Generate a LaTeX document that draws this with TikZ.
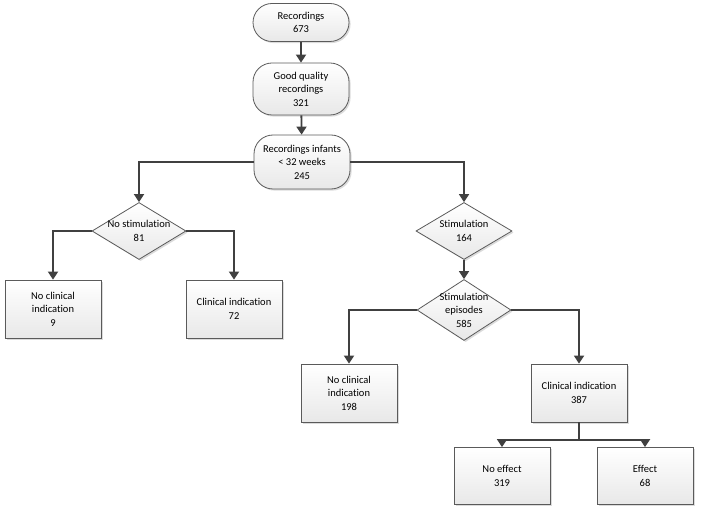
\documentclass[tikz,border=0pt]{standalone}
\usepackage{fontspec}
\setmainfont{Carlito}[Ligatures=NoCommon]
\usetikzlibrary{arrows.meta,shapes.geometric,shadows}
\definecolor{edgegray}{HTML}{5A5A5A}
\definecolor{arrowgray}{HTML}{404040}
\tikzset{
  base/.style={draw=edgegray, line width=0.8bp, top color=white, bottom color=black!9,
    drop shadow={shadow xshift=1.6bp, shadow yshift=-1.6bp, fill=black!28},
    font=\fontsize{10.5bp}{13.5bp}\selectfont, align=center, inner sep=0pt},
  roundbox/.style={base, rectangle, rounded corners=19bp, minimum width=96bp},
  squarebox/.style={base, rectangle, minimum width=96bp, minimum height=58bp},
  dia/.style={base, diamond, minimum width=#1, minimum height=57bp},
  lbl/.style={font=\fontsize{10.5bp}{13.5bp}\selectfont, align=center, inner sep=0pt},
  conn/.style={draw=arrowgray, line width=1.8bp, -{Triangle[length=8bp,width=10bp]}},
  plain/.style={draw=arrowgray, line width=1.8bp}
}
\begin{document}
\begin{tikzpicture}[x=1bp,y=-1bp]
\useasboundingbox (0,0) rectangle (708,510);
\node[roundbox, minimum height=38bp] (rec1) at (301,22.5) {Recordings\\673};
\node[roundbox, minimum height=52bp] (rec2) at (301,89) {Good quality\\recordings\\321};
\node[roundbox, minimum height=54bp] (rec3) at (302,162) {Recordings infants\\< 32 weeks\\245};
\node[dia=94bp, label={[lbl]center:No stimulation\\81}] (nostim) at (139,231) {};
\node[dia=96bp, label={[lbl]center:Stimulation\\164}] (stim) at (464,231) {};
\node[dia=94bp, minimum height=61bp, label={[lbl]center:Stimulation\\episodes\\585}] (epis) at (464,310) {};
\node[squarebox] (ncl1) at (53,309) {No clinical\\indication\\9};
\node[squarebox] (cl1) at (234,309) {Clinical indication\\72};
\node[squarebox] (ncl2) at (349,393) {No clinical\\indication\\198};
\node[squarebox] (cl2) at (579,393) {Clinical indication\\387};
\node[squarebox, minimum height=57bp] (noeff) at (502,476) {No effect\\319};
\node[squarebox, minimum height=57bp] (eff) at (645,476) {Effect\\68};

\draw[conn] (rec1) -- (rec2);
\draw[conn] (rec2) -- (rec3);
\draw[conn] (rec3.west) -| (nostim.north);
\draw[conn] (rec3.east) -| (stim.north);
\draw[conn] (nostim.west) -| (ncl1.north);
\draw[conn] (nostim.east) -| (cl1.north);
\draw[conn] (stim) -- (epis);
\draw[conn] (epis.west) -| (ncl2.north);
\draw[conn] (epis.east) -| (cl2.north);
\coordinate (split) at (579,440);
\draw[plain] (cl2.south) -- (split);
\draw[conn] (split) -| (noeff.north);
\draw[conn] (split) -| (eff.north);
\end{tikzpicture}
\end{document}
